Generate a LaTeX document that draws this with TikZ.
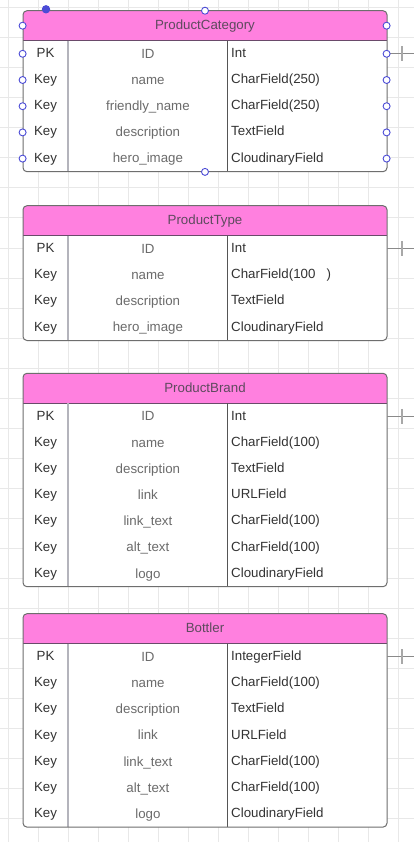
\documentclass[tikz,border=0pt]{standalone}
\usepackage{fontspec}
\setmainfont{Liberation Sans}
\definecolor{hdr}{HTML}{FF80DF}
\definecolor{gridc}{HTML}{E8E8E8}
\definecolor{framec}{HTML}{6E6E6E}
\definecolor{hline}{HTML}{6A4A6A}
\definecolor{divl}{HTML}{B4B4BC}
\definecolor{divr}{HTML}{555555}
\definecolor{keyc}{HTML}{333333}
\definecolor{namec}{HTML}{6B6B6B}
\definecolor{titlec}{HTML}{5E4A5E}
\definecolor{handlec}{HTML}{4B4BD6}
\definecolor{stubc}{HTML}{8A8A8A}
\definecolor{tickc}{HTML}{A8A8A8}
\tikzset{
  txt/.style={inner sep=0pt, anchor=base, font=\fontsize{13.3}{16}\selectfont},
  keytxt/.style={txt, text=keyc},
  nametxt/.style={txt, text=namec},
  typetxt/.style={txt, text=keyc, anchor=base west},
  titletxt/.style={txt, text=titlec},
  hnd/.style={draw=handlec, fill=white, line width=0.9pt},
  gridline/.style={draw=gridc, line width=1pt},
}
\newcommand\ertable[5]{%
  \pgfmathsetmacro\tp{#2}%
  \pgfmathsetmacro\hb{#2+30}%
  \pgfmathsetmacro\bt{#2+30+#3*26.2}%
  \begin{scope}
    \fill[white, rounded corners=4pt] (23,\tp) rectangle (387,\bt);
    \clip[rounded corners=4pt] (23,\tp) rectangle (387,\bt);
    \fill[hdr] (23,\tp) rectangle (387,\hb);
  \end{scope}
  \draw[hline, line width=1pt] (23,\hb) -- (387,\hb);
  \draw[divl, line width=1.6pt] (68,\hb) -- (68,\bt);
  \draw[divr, line width=0.9pt] (227.7,\hb) -- (227.7,\bt);
  \draw[framec, line width=1pt, rounded corners=4pt] (23,\tp) rectangle (387,\bt);
  \node[titletxt] (#1-title) at (205,\tp+18.9) {#4};
  \foreach \k/\nm/\ty [count=\i] in {#5} {
    \pgfmathsetmacro\rc{\hb+(\i-0.5)*26.2}
    \node[keytxt] (#1-key\i) at (45.5,\rc+3.6) {\k};
    \node[nametxt] (#1-name\i) at (147.9,\rc+4.4) {\nm};
    \node[typetxt] (#1-type\i) at (231,\rc+3.6) {\ty};
  }
  \pgfmathsetmacro\sy{\hb+13.1}%
  \coordinate (#1-pk) at (387,\sy);
  \coordinate (#1-end) at (414,\sy);
  \coordinate (#1-t1) at (401.7,\sy-7.5);
  \coordinate (#1-t2) at (401.7,\sy+7.5);
  \draw[stubc, line width=1pt] (#1-pk) -- (#1-end);
  \draw[tickc, line width=1.6pt] (#1-t1) -- (#1-t2);
}
\begin{document}
\begin{tikzpicture}[x=1pt,y=-1pt]
\useasboundingbox (0,0) rectangle (414,842);
\fill[white] (0,0) rectangle (414,842);
\foreach \gx in {0,...,13} \draw[gridline] (8.3+30*\gx,0) -- (8.3+30*\gx,842);
\foreach \gy in {0,...,27} \draw[gridline] (0,8+30*\gy) -- (414,8+30*\gy);

\ertable{pc}{10.7}{5}{ProductCategory}{PK/ID/Int, Key/name/{CharField(250)}, Key/friendly\_name/{CharField(250)}, Key/description/TextField, Key/hero\_image/CloudinaryField}
\ertable{pt}{205.7}{4}{ProductType}{PK/ID/Int, Key/name/{CharField(100\ \ \ )}, Key/description/TextField, Key/hero\_image/CloudinaryField}
\ertable{pb}{373.3}{7}{ProductBrand}{PK/ID/Int, Key/name/{CharField(100)}, Key/description/TextField, Key/link/URLField, Key/link\_text/{CharField(100)}, Key/alt\_text/{CharField(100)}, Key/logo/CloudinaryField}
\ertable{bo}{613.7}{7}{Bottler}{PK/ID/IntegerField, Key/name/{CharField(100)}, Key/description/TextField, Key/link/URLField, Key/link\_text/{CharField(100)}, Key/alt\_text/{CharField(100)}, Key/logo/CloudinaryField}

% selection handles on ProductCategory
\foreach \hy in {25.7,53.8,80,106.2,132.4,158.6} {
  \draw[hnd] (22.6,\hy) circle (3.5);
  \draw[hnd] (386.6,\hy) circle (3.5);
}
\draw[hnd] (205,10.7) circle (3.5);
\draw[hnd] (205,171.9) circle (3.5);
\fill[handlec] (46,9.3) circle (4.2);
\end{tikzpicture}
\end{document}
